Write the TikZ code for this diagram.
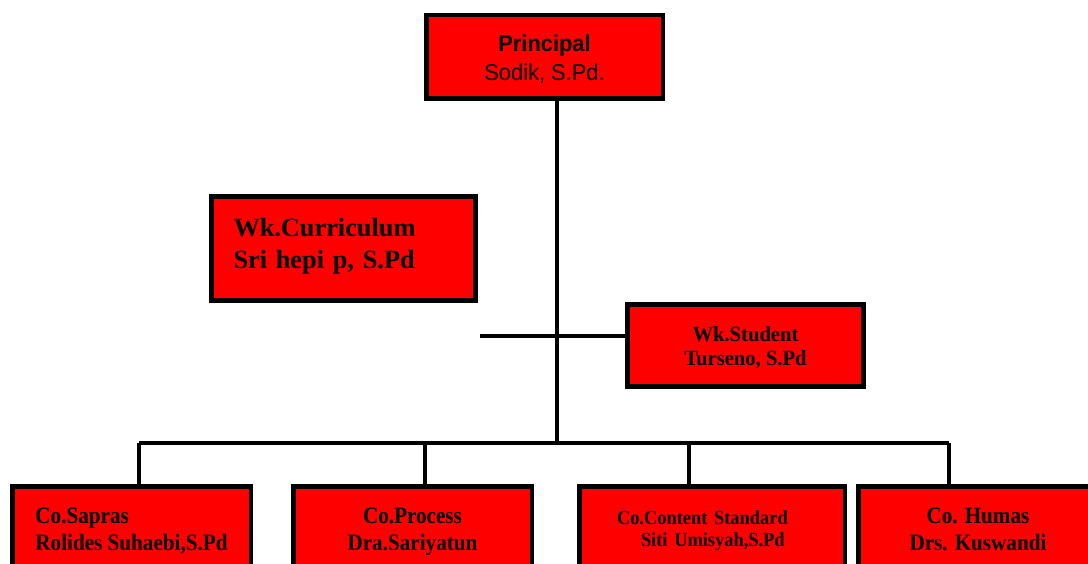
\documentclass[tikz,border=0pt]{standalone}
\usepackage{fontspec}
\setmainfont{Liberation Serif}
\newfontfamily\arialc[FakeStretch=0.95]{Liberation Sans}
\newfontfamily\serifc[FakeStretch=0.9]{Liberation Serif}
\newfontfamily\serifd[FakeStretch=0.92]{Liberation Serif}
\newfontfamily\serife[FakeStretch=0.95]{Liberation Serif}
\newcommand{\toprule}[1]{\rule{0pt}{#1}}
\newcommand{\botrule}[1]{\rule[-#1]{0pt}{#1}}
\begin{document}
\begin{tikzpicture}[x=1pt,y=-1pt,
  box/.style={draw=black, fill=red, line width=4.5pt, inner sep=0pt, text=black},
  conn/.style={draw=black, line width=4.8pt}]
\clip (0,0) rectangle (1088,564);
\fill[white] (0,0) rectangle (1088,564);
% boxes
\node[box, minimum width=236.5pt, minimum height=83.5pt, align=center,
      font=\arialc\fontsize{23}{28.8}\selectfont] (principal) at (544.5,57)
  {\toprule{23.7pt}\textbf{Principal}\\Sodik, S.Pd.\botrule{6pt}};
\node[box, minimum width=264pt, minimum height=104pt, inner xsep=22pt, text width=220pt, align=left,
      font=\bfseries\fontsize{26.3}{31.7}\selectfont] (curr) at (343.5,248.5)
  {\toprule{24pt}Wk.Curriculum\\Sri hepi p, S.Pd\botrule{15.3pt}};
\node[box, minimum width=236pt, minimum height=82pt, align=center,
      font=\serife\bfseries\fontsize{21.7}{23.8}\selectfont] (student) at (745.5,345.5)
  {\toprule{21.8pt}Wk.Student\\Turseno, S.Pd\botrule{6pt}};
\node[box, minimum width=238.5pt, minimum height=85.5pt, align=left,
      font=\serifc\bfseries\fontsize{23.5}{26.7}\selectfont] (sapras) at (131.5,529)
  {\toprule{21.3pt}Co.Sapras\\Rolides Suhaebi,S.Pd\botrule{6pt}};
\node[box, minimum width=238.5pt, minimum height=85.5pt, align=center,
      font=\serifc\bfseries\fontsize{23.5}{26.7}\selectfont] (process) at (412.5,529)
  {\toprule{21.3pt}Co.Process\\Dra.Sariyatun\botrule{6pt}};
\node[box, minimum width=265.5pt, minimum height=85.5pt, inner xsep=37.75pt, text width=190pt, align=left,
      font=\serifd\bfseries\fontsize{20}{22}\selectfont] (content) at (712,529)
  {\toprule{19.2pt}Co.Content Standard\\\hspace*{24pt}Siti Umisyah,S.Pd\botrule{6pt}};
\node[box, minimum width=239.5pt, minimum height=85.5pt, align=center,
      font=\serifc\bfseries\fontsize{23.5}{26.7}\selectfont] (humas) at (978,529)
  {\toprule{21.3pt}Co. Humas\\Drs. Kuswandi\botrule{6pt}};
% connector coordinates
\coordinate (bus) at (557,443);
\coordinate (stub) at (480,336);
\coordinate (d1) at (139,443);
\coordinate (d2) at (425,443);
\coordinate (d3) at (689,443);
\coordinate (d4) at (949,443);
% connectors
\draw[conn] (principal.south -| bus) -- (bus);
\draw[conn] (stub) -- (stub -| student.west);
\draw[conn] (d1) -- (d4);
\draw[conn] (d1) -- (d1 |- sapras.north);
\draw[conn] (d2) -- (d2 |- process.north);
\draw[conn] (d3) -- (d3 |- content.north);
\draw[conn] (d4) -- (d4 |- humas.north);
\end{tikzpicture}
\end{document}
